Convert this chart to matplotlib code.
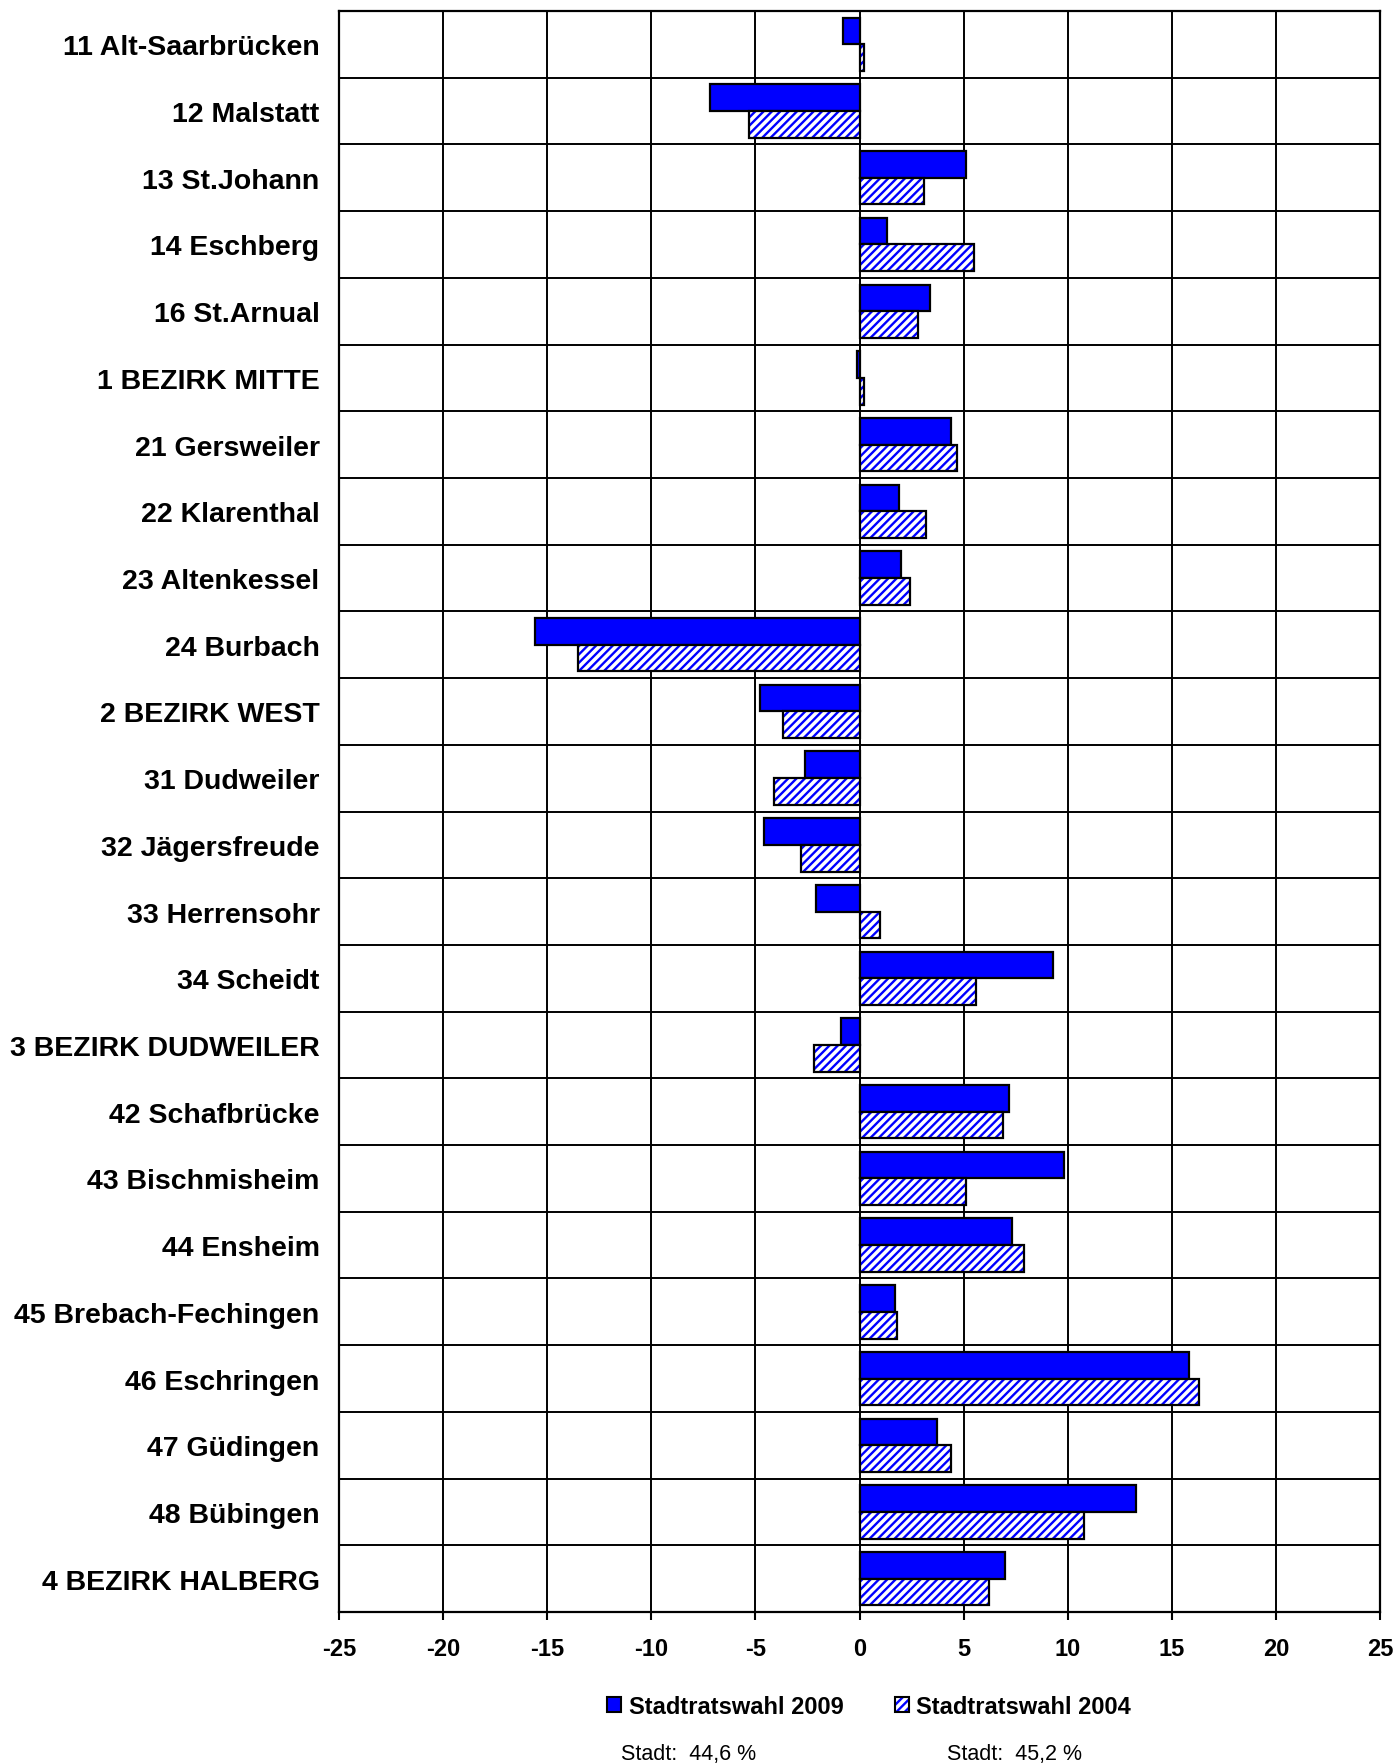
import matplotlib
matplotlib.use("Agg")
import matplotlib.pyplot as plt
from matplotlib.patches import Patch
import numpy as np

plt.rcParams['font.family'] = ['Liberation Sans', 'DejaVu Sans']
plt.rcParams['hatch.linewidth'] = 1.7

bezirke = ["11 Alt-Saarbrücken", "12 Malstatt", "13 St.Johann", "14 Eschberg",
           "16 St.Arnual", "1 BEZIRK MITTE", "21 Gersweiler", "22 Klarenthal",
           "23 Altenkessel", "24 Burbach", "2 BEZIRK WEST", "31 Dudweiler",
           "32 Jägersfreude", "33 Herrensohr", "34 Scheidt", "3 BEZIRK DUDWEILER",
           "42 Schafbrücke", "43 Bischmisheim", "44 Ensheim", "45 Brebach-Fechingen",
           "46 Eschringen", "47 Güdingen", "48 Bübingen", "4 BEZIRK HALBERG"]
wahl_2009 = [-0.8, -7.2, 5.1, 1.3, 3.4, -0.1, 4.4, 1.9, 2.0, -15.6, -4.8, -2.6,
             -4.6, -2.1, 9.3, -0.9, 7.2, 9.8, 7.3, 1.7, 15.8, 3.7, 13.3, 7.0]
wahl_2004 = [0.2, -5.3, 3.1, 5.5, 2.8, 0.2, 4.7, 3.2, 2.4, -13.5, -3.7, -4.1,
             -2.8, 1.0, 5.6, -2.2, 6.9, 5.1, 7.9, 1.8, 16.3, 4.4, 10.8, 6.2]
stadt_texte = ["Stadt:  44,6 %", "Stadt:  45,2 %"]

blau = "#0000ff"
y = np.arange(len(bezirke))

fig = plt.figure(figsize=(13.93, 17.65), dpi=100)
ax = fig.add_axes([0.2434, 0.0861, 0.7473, 0.9071])

ax.barh(y - 0.2, wahl_2009, height=0.4, color=blau, edgecolor="black",
        linewidth=1.6, zorder=3)
# hatched bars: blue stripes on white, then a black outline on top
ax.barh(y + 0.2, wahl_2004, height=0.4, color="white", edgecolor=blau,
        hatch="////", linewidth=0, zorder=3)
ax.barh(y + 0.2, wahl_2004, height=0.4, fill=False, edgecolor="black",
        linewidth=1.6, zorder=4)

ax.set_xlim(-25, 25)
ax.set_ylim(len(bezirke) - 0.5, -0.5)
ax.set_xticks(np.arange(-25, 26, 5))
ax.set_xticklabels([str(v) for v in range(-25, 26, 5)], fontsize=17,
                   fontweight="bold")
ax.set_yticks(y)
ax.set_yticklabels(bezirke, fontsize=20.5, fontweight="bold")
ax.set_yticks(np.arange(-0.5, len(bezirke), 1), minor=True)
ax.tick_params(axis="y", which="both", length=0, pad=14)
ax.tick_params(axis="x", length=6, width=1.5, pad=12, direction="out")
ax.grid(axis="x", which="major", color="black", linewidth=1.4, zorder=1)
ax.grid(axis="y", which="minor", color="black", linewidth=1.4, zorder=1)
ax.set_axisbelow(True)
for s in ax.spines.values():
    s.set_linewidth(1.6)

h2009 = Patch(facecolor=blau, edgecolor="black", linewidth=1.5)
h2004 = (Patch(facecolor="white", edgecolor=blau, hatch="////", linewidth=0),
         Patch(fill=False, edgecolor="black", linewidth=1.5))
fig.legend([h2009, h2004], ["Stadtratswahl 2009", "Stadtratswahl 2004"],
           loc="center", bbox_to_anchor=(0.624, 0.0325), ncol=2, frameon=False,
           prop={"size": 17, "weight": "bold"}, handlelength=0.6,
           handleheight=0.6, handletextpad=0.3, columnspacing=2.2)

fig.text(0.446, 0.003, stadt_texte[0], fontsize=15.5, va="baseline")
fig.text(0.680, 0.003, stadt_texte[1], fontsize=15.5, va="baseline")

fig.savefig("out.png", dpi=100)
